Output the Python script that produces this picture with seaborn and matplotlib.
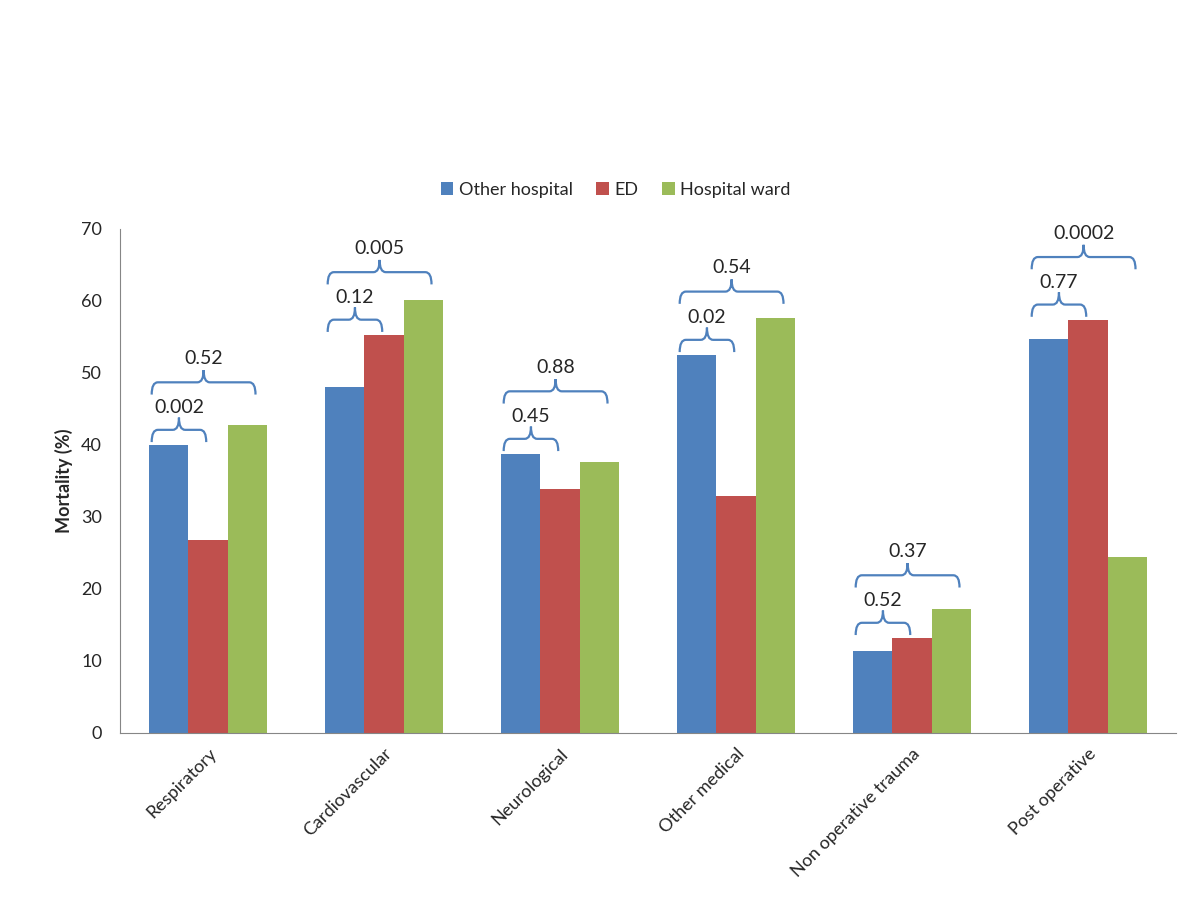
import seaborn as sns
import matplotlib.pyplot as plt
import pandas as pd
from matplotlib.path import Path
from matplotlib.patches import PathPatch


categories = ['Respiratory', 'Cardiovascular', 'Neurological', 'Other medical',
              'Non operative trauma', 'Post operative']
other_hospital = [40.0, 48.1, 38.75, 52.5, 11.4, 54.7]
ed = [26.8, 55.3, 33.9, 32.9, 13.2, 57.4]
hospital_ward = [42.8, 60.1, 37.7, 57.6, 17.2, 24.4]
# p-values: other hospital vs ED (inner brace), and across all three (outer brace)
p_inner = ['0.002', '0.12', '0.45', '0.02', '0.52', '0.77']
p_outer = ['0.52', '0.005', '0.88', '0.54', '0.37', '0.0002']

sources = ['Other hospital', 'ED', 'Hospital ward']
colors = ['#4F81BD', '#C0504D', '#9BBB59']


def draw_brace(ax, x0, x1, y0, h, color='#4F81BD'):
    # curly brace opening downwards, cusp pointing up in the middle
    xm = (x0 + x1) / 2
    yh = y0 + h / 2
    r = 0.035
    verts = [(x0, y0), (x0, yh), (x0 + r, yh),
             (xm - r, yh),
             (xm, yh), (xm, y0 + h),
             (xm, yh), (xm + r, yh),
             (x1 - r, yh),
             (x1, yh), (x1, y0)]
    codes = [Path.MOVETO, Path.CURVE3, Path.CURVE3,
             Path.LINETO,
             Path.CURVE3, Path.CURVE3,
             Path.CURVE3, Path.CURVE3,
             Path.LINETO,
             Path.CURVE3, Path.CURVE3]
    patch = PathPatch(Path(verts, codes), facecolor='none', edgecolor=color,
                      lw=1.6, clip_on=False)
    ax.add_patch(patch)


df = pd.DataFrame({'category': categories,
                   'Other hospital': other_hospital,
                   'ED': ed,
                   'Hospital ward': hospital_ward})
df_long = df.melt(id_vars='category', var_name='source', value_name='mortality')

sns.set_style("white")
plt.rcParams['font.family'] = ['Lato', 'DejaVu Sans']

fig = plt.figure(figsize=(12, 9), dpi=100)
ax = fig.add_axes([0.1, 0.1856, 0.88, 0.56])

sns.barplot(data=df_long, x='category', y='mortality', hue='source',
            hue_order=sources, palette=colors, saturation=1, width=0.665,
            errorbar=None, linewidth=0, ax=ax)

ax.set_xlim(-0.5, 5.5)
ax.set_ylim(0, 70)
ax.set_yticks(range(0, 71, 10))
ax.set_xlabel('')
ax.set_ylabel('Mortality (%)', fontsize=13, fontweight='bold', labelpad=6)

ax.set_xticks(range(len(categories)))
ax.set_xticklabels(categories, rotation=45, ha='right', va='top',
                   rotation_mode='anchor', fontsize=13)
ax.set_xticks([i - 0.5 for i in range(len(categories) + 1)], minor=True)
ax.tick_params(axis='x', which='major', length=0, pad=9)
ax.tick_params(axis='x', which='minor', length=5, color='#868686', direction='out')
ax.tick_params(axis='y', length=5, color='#868686', direction='out', labelsize=13, pad=8)

sns.despine(ax=ax)
for side in ['left', 'bottom']:
    ax.spines[side].set_color('#868686')

# significance braces
bh = 3.4
for i in range(len(categories)):
    inner_base = max(other_hospital[i], ed[i]) + 0.4
    outer_base = max(inner_base + 6.6, hospital_ward[i] + 2.0)

    x0, x1 = i - 0.32, i - 0.01
    draw_brace(ax, x0, x1, inner_base, bh)
    ax.text((x0 + x1) / 2, inner_base + bh + 0.2, p_inner[i], ha='center',
            va='bottom', fontsize=14, clip_on=False)

    x0, x1 = i - 0.32, i + 0.27
    draw_brace(ax, x0, x1, outer_base, bh)
    ax.text((x0 + x1) / 2, outer_base + bh + 0.4, p_outer[i], ha='center',
            va='bottom', fontsize=14, clip_on=False)

ax.legend(loc='center', bbox_to_anchor=(0.513, 0.789), bbox_transform=fig.transFigure,
          ncol=3, frameon=False, fontsize=13, handlelength=0.7, handleheight=0.7,
          handletextpad=0.3, columnspacing=1.3)

plt.savefig('out.png', dpi=100)
